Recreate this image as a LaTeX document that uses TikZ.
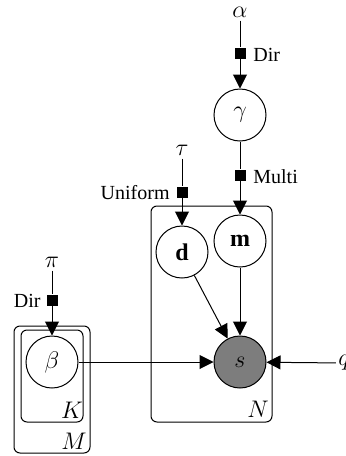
\documentclass[tikz,border=0pt]{standalone}
\usepackage{fontspec}
\setmainfont{Liberation Serif}
\usetikzlibrary{arrows.meta}
\definecolor{sgray}{RGB}{125,125,125}
\begin{document}
\begin{tikzpicture}[x=0.5pt,y=-0.5pt,
  latent/.style={circle,draw,line width=0.5pt,minimum size=26pt,inner sep=0pt,fill=white,font=\large},
  obs/.style={latent,fill=sgray},
  factor/.style={rectangle,fill=black,minimum size=5.5pt,inner sep=0pt},
  plate/.style={draw,line width=0.5pt,rounded corners=3pt},
  arr/.style={-{Triangle[length=7pt,width=7pt]},line width=0.5pt},
  ln/.style={line width=0.5pt},
  lbl/.style={inner sep=1.5pt},
  mlbl/.style={inner sep=1.5pt,font=\large}]
\useasboundingbox (0,0) rectangle (346,456);
% plates
\draw[plate] (151,206) rectangle (272,422);
\draw[plate] (21,330) rectangle (83,422);
\draw[plate] (14,326) rectangle (90,453);
\node[mlbl] (Nl) at (258,409) {$N$};
\node[mlbl] (Kl) at (72,410) {$K$};
\node[mlbl] (Ml) at (74,441) {$M$};
% nodes
\node[mlbl] (alpha) at (240,12) {$\alpha$};
\node[factor] (f1) at (240,53) {};
\node[lbl,anchor=west] (dir1) at (250,55) {Dir};
\node[latent] (gamma) at (240,115) {$\gamma$};
\node[factor] (f2) at (240,175) {};
\node[lbl,anchor=west] (multi) at (250,177) {Multi};
\node[latent] (m) at (240,241) {$\mathbf{m}$};
\node[mlbl] (tau) at (182,150) {$\tau$};
\node[factor] (f3) at (182,192) {};
\node[lbl,anchor=east] (unif) at (173,193) {Uniform};
\node[latent] (d) at (182,252) {$\mathbf{d}$};
\node[obs] (s) at (240,362) {$s$};
\node[inner sep=1pt,font=\large] (q) at (344,363) {$q$};
\node[mlbl] (pi) at (52,262) {$\pi$};
\node[factor] (f4) at (52,300) {};
\node[lbl,anchor=east] (dir2) at (44,301) {Dir};
\node[latent] (beta) at (52,362) {$\beta$};
% edges
\draw[ln] (alpha) -- (f1);
\draw[arr] (f1) -- (gamma);
\draw[ln] (gamma) -- (f2);
\draw[arr] (f2) -- (m);
\draw[ln] (tau) -- (f3);
\draw[arr] (f3) -- (d);
\draw[arr] (d) -- (s);
\draw[arr] (m) -- (s);
\draw[arr] (beta) -- (s);
\draw[arr] (q) -- (s);
\draw[ln] (pi) -- (f4);
\draw[arr] (f4) -- (beta);
\end{tikzpicture}
\end{document}
